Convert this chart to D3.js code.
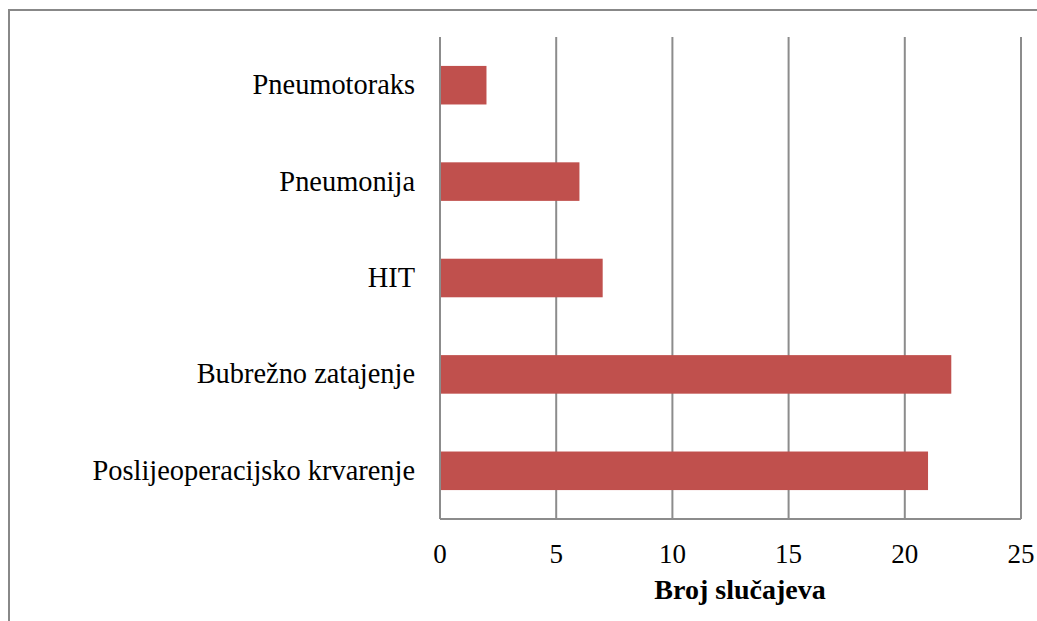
<!DOCTYPE html>
<html>
<head>
<meta charset="utf-8">
<script src="https://cdn.jsdelivr.net/npm/d3@7"></script>
<style>
  body { margin: 0; background: #fff; }
</style>
</head>
<body>
<div id="chart"></div>
<script>
// Podaci
const categories = ["Pneumotoraks", "Pneumonija", "HIT", "Bubrežno zatajenje", "Poslijeoperacijsko krvarenje"];
const values = [2, 6, 7, 22, 21];
const xTicks = [0, 5, 10, 15, 20, 25];
const xTitle = "Broj slučajeva";

const width = 1037;
const height = 621;
const marginTop = 37;
const marginRight = 16;
const marginBottom = 102;
const marginLeft = 440;
const font = "'Liberation Serif', 'DejaVu Serif', serif";
const gridColor = "#8c8c8c";

const svg = d3.select("#chart")
    .append("svg")
    .attr("width", width)
    .attr("height", height);

// Marco exterior (sólo arriba e izquierda)
svg.append("path")
    .attr("d", `M9,${height} V10 H${width}`)
    .attr("fill", "none")
    .attr("stroke", "#888")
    .attr("stroke-width", 2);

const x = d3.scaleLinear()
    .domain([0, 25])
    .range([marginLeft, width - marginRight]);

const y = d3.scaleBand()
    .domain(categories)
    .range([marginTop, height - marginBottom])
    .padding(0);

const barH = y.bandwidth() * 0.4;

// Líneas de cuadrícula verticales
svg.append("g")
    .selectAll("line")
    .data(xTicks)
    .join("line")
    .attr("x1", d => x(d))
    .attr("x2", d => x(d))
    .attr("y1", marginTop)
    .attr("y2", height - marginBottom)
    .attr("stroke", gridColor)
    .attr("stroke-width", 2);

// Eje inferior
svg.append("line")
    .attr("x1", x(0))
    .attr("x2", x(25))
    .attr("y1", height - marginBottom)
    .attr("y2", height - marginBottom)
    .attr("stroke", gridColor)
    .attr("stroke-width", 2);

// Barras
svg.append("g")
    .selectAll("rect")
    .data(categories)
    .join("rect")
    .attr("x", x(0) + 1)
    .attr("y", d => y(d) + (y.bandwidth() - barH) / 2)
    .attr("width", (d, i) => x(values[i]) - x(0) - 1)
    .attr("height", barH)
    .attr("fill", "#c0504d");

// Etiquetas de categorías
svg.append("g")
    .selectAll("text")
    .data(categories)
    .join("text")
    .attr("x", marginLeft - 25)
    .attr("y", d => y(d) + y.bandwidth() / 2 + 9)
    .attr("text-anchor", "end")
    .style("font-family", font)
    .style("font-size", "28.4px")
    .attr("fill", "#000")
    .text(d => d);

// Etiquetas del eje X
svg.append("g")
    .selectAll("text")
    .data(xTicks)
    .join("text")
    .attr("x", d => x(d))
    .attr("y", 563)
    .attr("text-anchor", "middle")
    .style("font-family", font)
    .style("font-size", "27px")
    .attr("fill", "#000")
    .text(d => d);

// Título del eje
svg.append("text")
    .attr("x", 740)
    .attr("y", 599)
    .attr("text-anchor", "middle")
    .style("font-family", font)
    .style("font-size", "28px")
    .style("font-weight", "bold")
    .attr("fill", "#000")
    .text(xTitle);
</script>
</body>
</html>
